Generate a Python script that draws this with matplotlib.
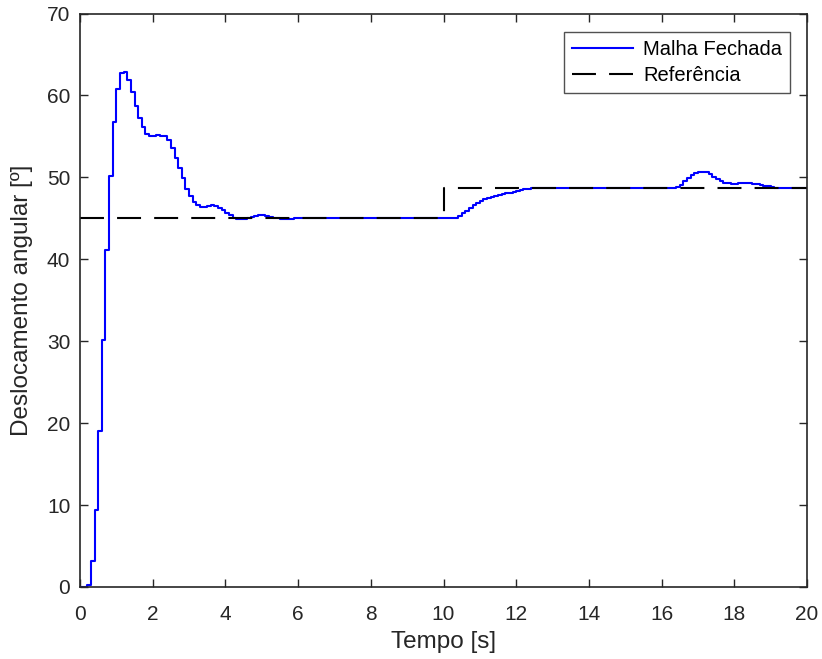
import numpy as np
import matplotlib
matplotlib.use("Agg")
import matplotlib.pyplot as plt

plt.rcParams['font.family'] = ['Liberation Sans', 'DejaVu Sans']

# Sampled closed-loop response (sample time 0.1 s)
tempo = [round(0.1 * i, 1) for i in range(201)]
malha_fechada = [
    0.0, 0.0, 0.3, 3.2, 9.4, 19.0, 30.2, 41.1, 50.2, 56.8,      # 0.0-0.9
    60.8, 62.7, 62.9, 61.9, 60.4, 58.7, 57.3, 56.1, 55.3, 55.1,  # 1.0-1.9
    55.1, 55.2, 55.1, 55.0, 54.5, 53.6, 52.4, 51.2, 49.9, 48.6,  # 2.0-2.9
    47.7, 47.0, 46.6, 46.4, 46.4, 46.5, 46.6, 46.5, 46.3, 46.0,  # 3.0-3.9
    45.7, 45.4, 45.1, 44.95, 44.9, 44.95, 45.0, 45.2, 45.3, 45.4,  # 4.0-4.9
    45.4, 45.3, 45.2, 45.1, 45.0, 44.95, 44.9, 44.9, 44.95, 45.0,  # 5.0-5.9
    45.1, 45.1, 45.1, 45.05, 45.0, 45.0, 45.0, 44.98, 44.98, 45.0,  # 6.0-6.9
    45.0, 45.0, 45.0, 45.0, 45.0, 45.0, 45.0, 45.0, 45.0, 45.0,  # 7.0-7.9
    45.0, 45.0, 45.0, 45.0, 45.0, 45.0, 45.0, 45.0, 45.0, 45.0,  # 8.0-8.9
    45.0, 45.0, 45.0, 45.0, 45.0, 45.0, 45.0, 45.0, 45.0, 45.0,  # 9.0-9.9
    45.0, 45.0, 45.0, 45.1, 45.3, 45.6, 45.9, 46.2, 46.6, 46.9,  # 10.0-10.9
    47.1, 47.3, 47.45, 47.6, 47.75, 47.85, 47.95, 48.05, 48.15, 48.25,  # 11.0-11.9
    48.35, 48.45, 48.55, 48.6, 48.65, 48.7, 48.7, 48.7, 48.7, 48.7,  # 12.0-12.9
    48.7, 48.7, 48.7, 48.7, 48.7, 48.7, 48.7, 48.7, 48.7, 48.7,  # 13.0-13.9
    48.7, 48.7, 48.7, 48.7, 48.7, 48.7, 48.7, 48.7, 48.7, 48.7,  # 14.0-14.9
    48.7, 48.7, 48.7, 48.7, 48.7, 48.7, 48.7, 48.7, 48.7, 48.7,  # 15.0-15.9
    48.7, 48.7, 48.7, 48.7, 48.8, 49.1, 49.5, 49.9, 50.3, 50.5,  # 16.0-16.9
    50.7, 50.7, 50.6, 50.4, 50.1, 49.8, 49.5, 49.35, 49.3, 49.25,  # 17.0-17.9
    49.25, 49.3, 49.3, 49.3, 49.3, 49.25, 49.2, 49.1, 49.0, 48.9,  # 18.0-18.9
    48.8, 48.75, 48.7, 48.7, 48.7, 48.7, 48.7, 48.7, 48.7, 48.7,  # 19.0-19.9
    48.7,                                                         # 20.0
]

# Reference signal
ref_tempo = [0, 10, 10, 20]
referencia = [45.0, 45.0, 48.7, 48.7]

x_ticks = [0, 2, 4, 6, 8, 10, 12, 14, 16, 18, 20]
y_ticks = [0, 10, 20, 30, 40, 50, 60, 70]

txt = '#262626'
fig = plt.figure(figsize=(8.22, 6.59), dpi=100)
ax = fig.add_axes([80/822, 1 - 587/659, 727/822, (587 - 13.5)/659])

ax.plot(tempo, malha_fechada, drawstyle='steps-post', color=(0, 0, 1), lw=1.5,
        label='Malha Fechada')
ax.plot(ref_tempo, referencia, color='black', lw=1.5, dashes=(11.5, 6.3),
        label='Referência')

ax.set_xlim(0, 20)
ax.set_ylim(0, 70)
ax.set_xticks(x_ticks)
ax.set_yticks(y_ticks)
ax.tick_params(direction='in', length=6, width=1.0, top=True, right=True,
               labelsize=15, colors=txt)
ax.tick_params(axis='x', pad=13)
ax.tick_params(axis='y', pad=7)
for s in ax.spines.values():
    s.set_linewidth(1.2)
    s.set_color(txt)

ax.set_xlabel('Tempo [s]', fontsize=17.5, color=txt, labelpad=5)
ax.set_ylabel('Deslocamento angular [º]', fontsize=17.5, color=txt, labelpad=10)

leg = ax.legend(loc='upper right', bbox_to_anchor=(1 - 17/727, 1 - 18/573.5),
                borderaxespad=0, fontsize=14.5, frameon=True, fancybox=False,
                handlelength=3.0, handletextpad=0.5, borderpad=0.4,
                labelspacing=0.35)
leg.get_frame().set_edgecolor(txt)
leg.get_frame().set_linewidth(1.0)
for t in leg.get_texts():
    t.set_color('black')

fig.savefig('out.png', dpi=100)
